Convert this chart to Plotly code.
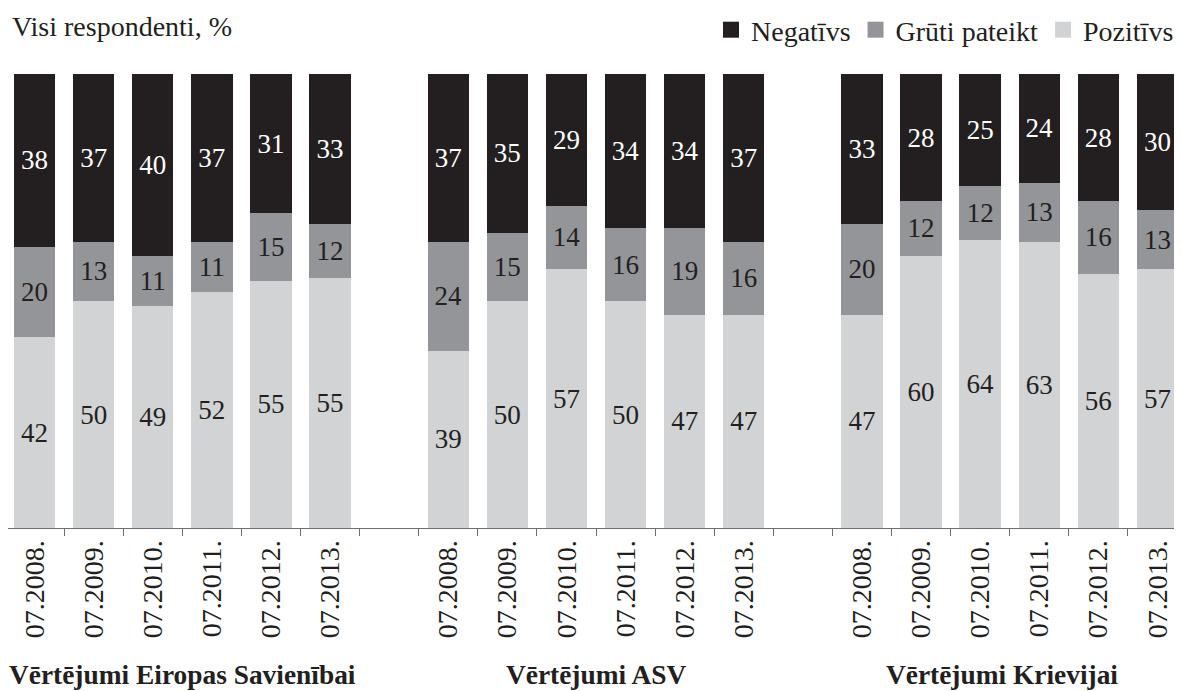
import plotly.graph_objects as go

groups = ["Vērtējumi Eiropas Savienībai", "Vērtējumi ASV", "Vērtējumi Krievijai"]
periods = ["07.2008.", "07.2009.", "07.2010.", "07.2011.", "07.2012.", "07.2013."]
negativs = [[38, 37, 40, 37, 31, 33], [37, 35, 29, 34, 34, 37], [33, 28, 25, 24, 28, 30]]
gruti = [[20, 13, 11, 11, 15, 12], [24, 15, 14, 16, 19, 16], [20, 12, 12, 13, 16, 13]]
pozitivs = [[42, 50, 49, 52, 55, 55], [39, 50, 57, 50, 47, 47], [47, 60, 64, 63, 56, 57]]
series_names = ["Pozitīvs", "Grūti pateikt", "Negatīvs"]
title_shift = [0, 0, -8]   # small horizontal nudge of group titles (px)

FONT = "'Liberation Serif', 'Times New Roman', Times, serif"
INK = "#231f20"
colors = {"Negatīvs": "#231f20", "Grūti pateikt": "#939598", "Pozitīvs": "#d1d3d4"}
text_colors = {"Negatīvs": "#ffffff", "Grūti pateikt": INK, "Pozitīvs": INK}

# the page body adds an 8px offset; figure coordinates below are page-8
OFF = 8
W, H = 1182 - OFF, 691 - OFF
PLOT_TOP, PLOT_BOTTOM = 74 - OFF, 528 - OFF
PLOT_H = PLOT_BOTTOM - PLOT_TOP
AXIS_LEFT = 5      # page x of the first category boundary
SLOT = 59.1        # px per category slot

GAP = 1  # empty slots between groups
n = len(periods)
xs = [g * (n + GAP) + i for g in range(len(groups)) for i in range(n)]
ticktext = [p for g in range(len(groups)) for p in periods]

data = {"Pozitīvs": pozitivs, "Grūti pateikt": gruti, "Negatīvs": negativs}

fig = go.Figure()
for name in series_names:
    vals = [v for grp in data[name] for v in grp]
    fig.add_trace(go.Bar(
        x=xs, y=vals, name=name, showlegend=False,
        marker=dict(color=colors[name], line=dict(width=0)),
        text=[str(v) for v in vals], texttemplate="%{text}",
        textposition="inside", insidetextanchor="middle", textangle=0,
        textfont=dict(family=FONT, size=27, color=text_colors[name]),
        hoverinfo="skip",
    ))

# legend entries (order as in reference)
for name in ["Negatīvs", "Grūti pateikt", "Pozitīvs"]:
    fig.add_trace(go.Scatter(
        x=[None], y=[None], mode="markers", name=name,
        marker=dict(symbol="square", size=16, color=colors[name]),
        showlegend=True,
    ))

for g, title in enumerate(groups):
    fig.add_annotation(
        x=g * (n + GAP) + (n - 1) / 2, xref="x", xshift=title_shift[g],
        y=(PLOT_BOTTOM - (675 - OFF)) / PLOT_H, yref="paper", yanchor="middle", xanchor="center",
        text=f"<b>{title}</b>", showarrow=False,
        font=dict(family=FONT, size=27.4, color=INK),
    )

fig.add_annotation(
    x=(10 - OFF) / W, xref="paper", xanchor="left",
    y=(PLOT_BOTTOM - (27 - OFF)) / PLOT_H, yref="paper", yanchor="middle",
    text="Visi respondenti, %", showarrow=False,
    font=dict(family=FONT, size=28, color=INK),
)

fig.update_layout(
    width=W, height=H,
    margin=dict(l=0, r=0, t=PLOT_TOP, b=H - PLOT_BOTTOM, pad=0),
    paper_bgcolor="white", plot_bgcolor="white",
    barmode="stack", barnorm="percent", bargap=0.3,
    uniformtext=dict(minsize=27, mode="show"),
    font=dict(family=FONT, size=27, color=INK),
    legend=dict(
        orientation="h", xref="container", yref="container",
        x=1 - 3 / W, xanchor="right", y=1 - (30 - OFF) / H, yanchor="middle",
        font=dict(family=FONT, size=28, color=INK),
        itemwidth=30, bgcolor="rgba(0,0,0,0)", traceorder="normal",
    ),
    xaxis=dict(
        range=[-0.5 + (OFF - AXIS_LEFT) / SLOT, -0.5 + (1182 - AXIS_LEFT) / SLOT],
        tickmode="array", tickvals=xs, ticktext=ticktext,
        tickangle=-90, ticks="", ticklen=0, ticklabelstandoff=0,
        tickfont=dict(family=FONT, size=28, color=INK),
        showline=True, linecolor="#6d6e71", linewidth=1,
        showgrid=False, zeroline=False,
        minor=dict(tick0=0.5, dtick=1, ticks="outside", ticklen=7,
                   tickcolor="#6d6e71", tickwidth=1, showgrid=False),
    ),
    yaxis=dict(range=[0, 100], visible=False, showgrid=False, zeroline=False),
)

fig.write_html("out.html")
